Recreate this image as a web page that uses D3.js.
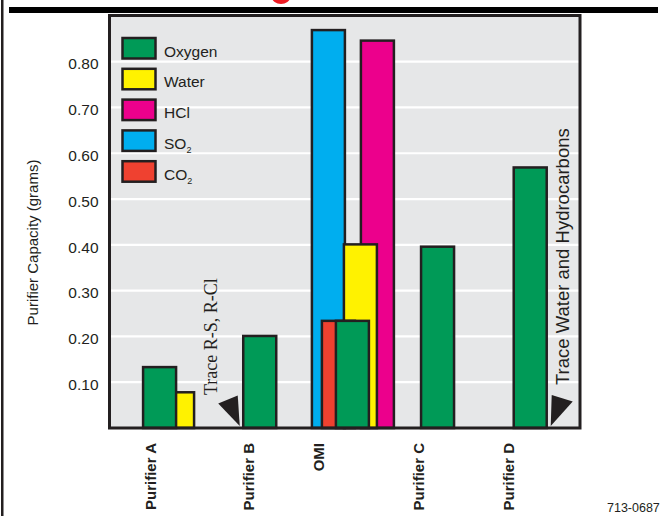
<!DOCTYPE html>
<html>
<head>
<meta charset="utf-8">
<script src="https://cdn.jsdelivr.net/npm/d3@7"></script>
<style>
  html, body { margin: 0; padding: 0; background: #ffffff; }
  svg { display: block; }
  text { font-family: "Liberation Sans", Arial, Helvetica, sans-serif; fill: #231f20; }
</style>
</head>
<body>
<svg id="chart" width="660" height="516"></svg>
<script>
// ---------------- DATA ----------------
const categories = ["Purifier A", "Purifier B", "OMI", "Purifier C", "Purifier D"];
const seriesNames = ["Oxygen", "Water", "HCl", "SO2", "CO2"];
const oxygen = [0.133, 0.201, 0.234, 0.396, 0.569];
const water  = [0.078, null, 0.401, null, null];
const hcl    = [null, null, 0.846, null, null];
const so2    = [null, null, 0.869, null, null];
const co2    = [null, null, 0.234, null, null];
const yTicks = [0.10, 0.20, 0.30, 0.40, 0.50, 0.60, 0.70, 0.80];
const yTitle = "Purifier Capacity (grams)";
const noteLeft = "Trace R-S, R-Cl";
const noteRight = "Trace Water and Hydrocarbons";
const figId = "713-0687";

// ---------------- STYLE / LAYOUT ----------------
const colors = { Oxygen: "#009a57", Water: "#fff200", HCl: "#ec008c", SO2: "#00aeef", CO2: "#ef4130" };
const values = { Oxygen: oxygen, Water: water, HCl: hcl, SO2: so2, CO2: co2 };
const drawOrder = ["SO2", "HCl", "Water", "CO2", "Oxygen"];
const ink = "#231f20";
const barW = 33;
// horizontal offset (px) of each series' bar inside its cluster
const clusterLayout = {
  "Purifier A": { Oxygen: 0, Water: 18 },
  "Purifier B": { Oxygen: 0 },
  "OMI":        { SO2: 0, CO2: 10, Oxygen: 24, Water: 32, HCl: 49 },
  "Purifier C": { Oxygen: 0 },
  "Purifier D": { Oxygen: 0 }
};
const clusterNudge = [-1, 0, 3, -2.5, 0];
const labelNudge = [-14, -6, -26, -16.5, -16.5];

const svg = d3.select("#chart");
const frame = { left: 109.5, right: 580, top: 15.5, bottom: 428 };

const y = d3.scaleLinear().domain([0, 0.9]).range([frame.bottom, frame.bottom - 0.9 * 457.9]);
const x = d3.scaleBand().domain(categories).range([124.5, 575.3]).padding(0);

function clusterWidth(cat) {
  return d3.max(Object.values(clusterLayout[cat])) + barW;
}
function barLeft(cat, s) {
  const i = categories.indexOf(cat);
  return x(cat) + x.bandwidth() / 2 - clusterWidth(cat) / 2 + clusterNudge[i] + clusterLayout[cat][s];
}

// ---------------- PAGE DECOR ----------------
// tail of the (cropped) red title above the chart
svg.append("ellipse")
  .attr("cx", 281).attr("cy", -2.5).attr("rx", 9).attr("ry", 6.5)
  .attr("fill", "#ee1c25");
svg.append("rect").attr("x", 1).attr("y", 0).attr("width", 2.5).attr("height", 516).attr("fill", ink);
svg.append("rect").attr("x", 9).attr("y", 7).attr("width", 649).attr("height", 6).attr("fill", "#000");

// ---------------- PLOT FRAME ----------------
svg.append("rect")
  .attr("x", frame.left).attr("y", frame.top)
  .attr("width", frame.right - frame.left).attr("height", frame.bottom - frame.top)
  .attr("fill", "#e6e7e8");

// gridlines
svg.append("g").selectAll("line").data(yTicks).join("line")
  .attr("x1", frame.left).attr("x2", frame.right)
  .attr("y1", d => y(d)).attr("y2", d => y(d))
  .attr("stroke", "#ffffff").attr("stroke-width", 2.2);

// y axis labels
const yAxis = d3.axisLeft(y).tickValues(yTicks).tickFormat(d3.format(".2f")).tickSize(0).tickPadding(11);
const yg = svg.append("g").attr("transform", `translate(${frame.left},0)`).call(yAxis);
yg.select(".domain").remove();
yg.selectAll("text")
  .attr("dy", "0.47em")
  .style("font-size", "15.5px")
  .style("font-family", "'Liberation Sans', Arial, sans-serif")
  .attr("fill", ink);

// y title
svg.append("text")
  .attr("transform", `translate(38,242.5) rotate(-90)`)
  .attr("text-anchor", "middle")
  .style("font-size", "15px")
  .text(yTitle);

// ---------------- BARS ----------------
const barData = [];
drawOrder.forEach(s => {
  categories.forEach((c, i) => {
    const v = values[s][i];
    if (v !== null && v !== undefined) barData.push({ cat: c, series: s, value: v });
  });
});
svg.append("g").selectAll("rect").data(barData).join("rect")
  .attr("x", d => barLeft(d.cat, d.series))
  .attr("y", d => y(d.value))
  .attr("width", barW)
  .attr("height", d => y(0) - y(d.value))
  .attr("fill", d => colors[d.series])
  .attr("stroke", ink)
  .attr("stroke-width", 2.5);

// frame outline on top
svg.append("rect")
  .attr("x", frame.left).attr("y", frame.top)
  .attr("width", frame.right - frame.left).attr("height", frame.bottom - frame.top)
  .attr("fill", "none").attr("stroke", ink).attr("stroke-width", 3);

// ---------------- LEGEND ----------------
const legendItems = [
  { key: "Oxygen", main: "Oxygen", sub: "" },
  { key: "Water", main: "Water", sub: "" },
  { key: "HCl", main: "HCl", sub: "" },
  { key: "SO2", main: "SO", sub: "2" },
  { key: "CO2", main: "CO", sub: "2" }
];
const lg = svg.append("g");
legendItems.forEach((it, i) => {
  const top = 38 + i * 30.8;
  lg.append("rect")
    .attr("x", 122.5).attr("y", top).attr("width", 33).attr("height", 20.5)
    .attr("fill", colors[it.key]).attr("stroke", ink).attr("stroke-width", 2.5);
  const t = lg.append("text").attr("x", 164).attr("y", top + 18.5).style("font-size", "15.5px");
  t.append("tspan").text(it.main);
  if (it.sub) t.append("tspan").attr("dy", 4).style("font-size", "9px").text(it.sub);
});

// ---------------- X LABELS ----------------
svg.append("g").selectAll("text").data(categories).join("text")
  .attr("transform", (d, i) => `translate(${x(d) + x.bandwidth() / 2 + labelNudge[i]},443) rotate(-90)`)
  .attr("text-anchor", "end")
  .style("font-size", "15px").style("font-weight", "bold")
  .text(d => d);

// ---------------- ANNOTATIONS ----------------
const bL = barLeft("Purifier B", "Oxygen");
const dR = barLeft("Purifier D", "Oxygen") + barW;
const y0 = y(0);
svg.append("path")
  .attr("d", d3.line()([[bL - 5.5, y0 - 32.5], [bL - 25, y0 - 24.5], [bL - 3.5, y0 - 2]]) + "Z")
  .attr("fill", ink);
svg.append("path")
  .attr("d", d3.line()([[dR + 5, y0 - 33], [dR + 26, y0 - 26.5], [dR + 4, y0 - 2]]) + "Z")
  .attr("fill", ink);

svg.append("text")
  .attr("transform", `translate(${bL - 26},${y0 - 33}) rotate(-90)`)
  .style("font-family", "'Liberation Serif', 'Times New Roman', serif")
  .style("font-size", "18px")
  .text(noteLeft);
svg.append("text")
  .attr("transform", `translate(${dR + 22.5},${y0 - 43}) rotate(-90)`)
  .style("font-size", "18.5px")
  .text(noteRight);

svg.append("text")
  .attr("x", 607).attr("y", 512)
  .style("font-size", "12.5px")
  .text(figId);
</script>
</body>
</html>
